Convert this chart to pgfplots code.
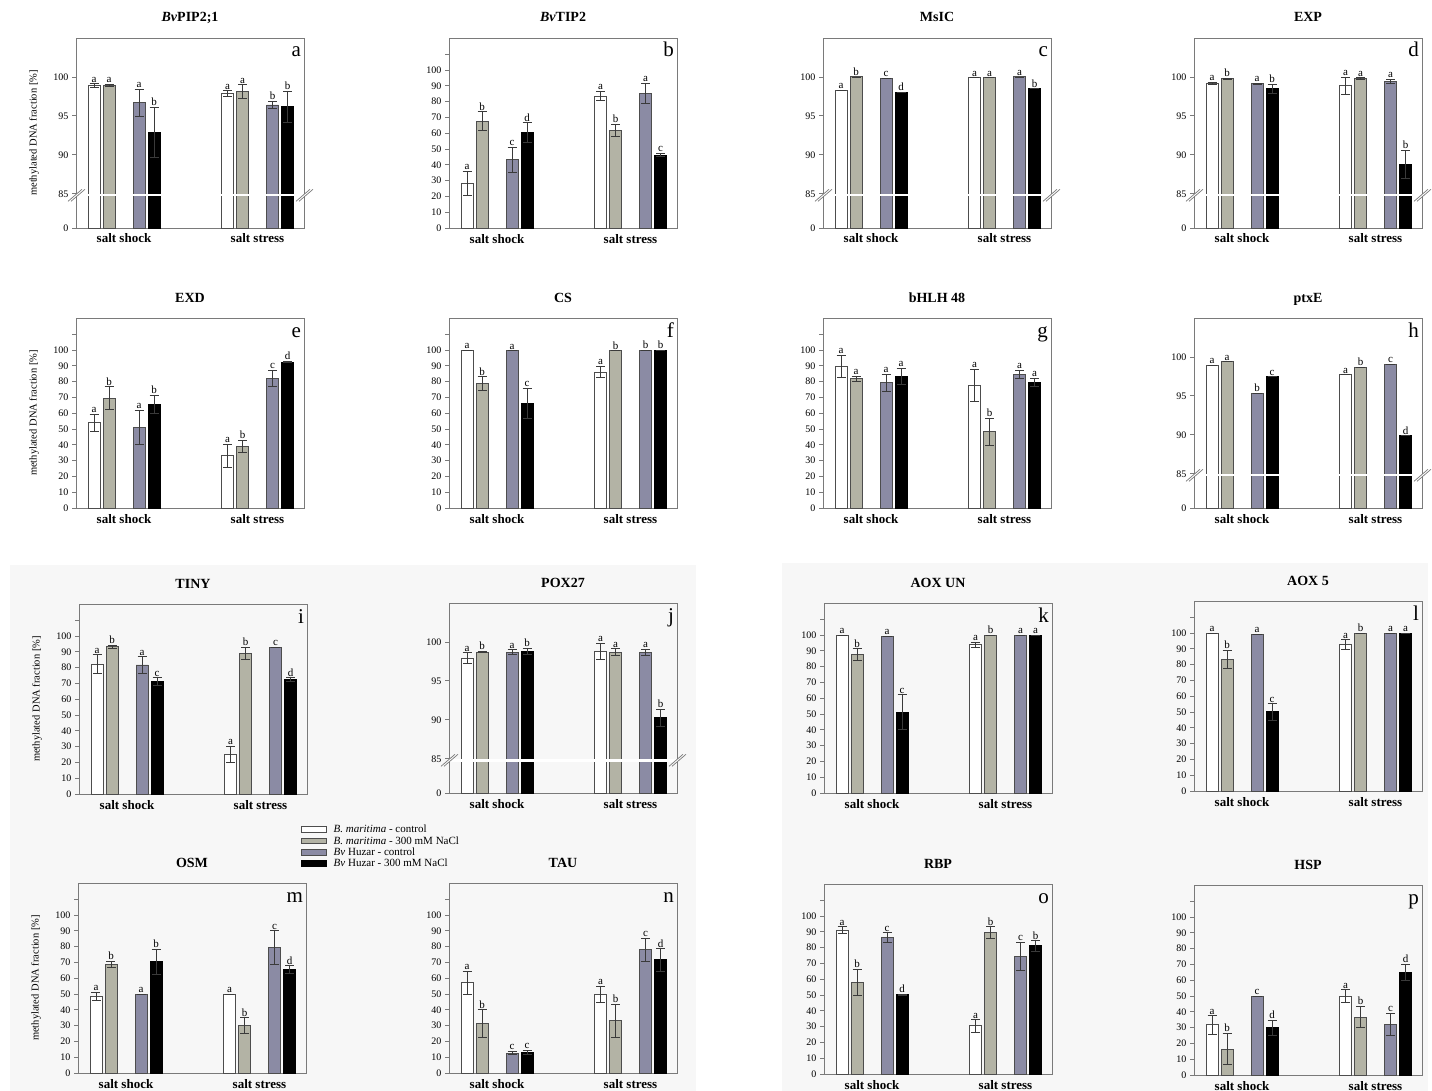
\documentclass[border=0pt]{standalone}
\usepackage{fontspec}
\setmainfont{Liberation Serif}
\usepackage{pgfplots}
\usepackage{pgfplotstable}
\pgfplotsset{compat=1.18}

\definecolor{axgray}{HTML}{7A7A7A}
\definecolor{edgegray}{HTML}{4D4D4D}
\definecolor{barsage}{HTML}{B3B3A5}
\definecolor{barblue}{HTML}{8B8BA4}
\definecolor{errgray}{HTML}{3A3A3A}
\definecolor{bg}{HTML}{F7F7F7}

% columns: c = 0 salt shock, 1 salt stress; series 1..4 = B. maritima ctrl, B. maritima NaCl, Bv ctrl, Bv NaCl
\pgfplotstableread{
c y1 e1 l1 y2 e2 l2 y3 e3 l3 y4 e4 l4
0 98.9 0.25 a 98.9 0.15 a 96.7 1.75 a 92.9 3.2 b
1 97.9 0.35 a 98.1 0.9 a 96.4 0.45 b 96.2 2.0 b
}\tabA
\pgfplotstableread{
c y1 e1 l1 y2 e2 l2 y3 e3 l3 y4 e4 l4
0 28.4 7.6 a 67.6 6.1 b 43.4 7.9 c 60.6 6.1 d
1 83.5 3.0 a 61.9 3.8 b 85.4 6.4 a 46.2 1.0 c
}\tabB
\pgfplotstableread{
c y1 e1 l1 y2 e2 l2 y3 e3 l3 y4 e4 l4
0 98.3 0 a 100 0 b 99.8 0 c 98.0 0 d
1 99.9 0 a 99.9 0 a 100 0 a 98.5 0 b
}\tabC
\pgfplotstableread{
c y1 e1 l1 y2 e2 l2 y3 e3 l3 y4 e4 l4
0 99.2 0.1 a 99.75 0.05 b 99.15 0.05 a 98.5 0.6 b
1 98.9 1.1 a 99.8 0.1 a 99.45 0.25 a 88.8 1.8 b
}\tabD
\pgfplotstableread{
c y1 e1 l1 y2 e2 l2 y3 e3 l3 y4 e4 l4
0 54.0 5.3 a 69.5 7.2 b 51.1 10.8 a 65.7 5.9 b
1 33.1 7.4 a 39.2 3.8 b 82.2 4.9 c 92.4 0.5 d
}\tabE
\pgfplotstableread{
c y1 e1 l1 y2 e2 l2 y3 e3 l3 y4 e4 l4
0 100 0 a 78.8 4.3 b 99.6 0 a 66.3 9.5 c
1 86.0 3.6 a 99.6 0 b 100 0 b 100 0 b
}\tabF
\pgfplotstableread{
c y1 e1 l1 y2 e2 l2 y3 e3 l3 y4 e4 l4
0 89.8 6.8 a 81.8 1.7 a 79.2 5.5 a 83.3 5.3 a
1 77.8 10.1 a 48.3 8.7 b 84.7 2.4 a 79.4 2.6 a
}\tabG
\pgfplotstableread{
c y1 e1 l1 y2 e2 l2 y3 e3 l3 y4 e4 l4
0 98.9 0 a 99.4 0 a 95.35 0 b 97.45 0 c
1 97.7 0 a 98.7 0 b 99.05 0 c 89.9 0 d
}\tabH
\pgfplotstableread{
c y1 e1 l1 y2 e2 l2 y3 e3 l3 y4 e4 l4
0 82.3 5.8 a 93.2 1.0 b 81.7 5.3 a 71.2 2.4 c
1 24.9 5.2 a 89.1 3.7 b 92.8 0 c 72.3 1.3 d
}\tabI
\pgfplotstableread{
c y1 e1 l1 y2 e2 l2 y3 e3 l3 y4 e4 l4
0 97.9 0.7 a 98.7 0.1 b 98.7 0.3 a 98.8 0.4 b
1 98.8 1.0 a 98.7 0.45 a 98.7 0.4 a 90.3 1.1 b
}\tabJ
\pgfplotstableread{
c y1 e1 l1 y2 e2 l2 y3 e3 l3 y4 e4 l4
0 100 0 a 87.8 3.6 b 99.2 0 a 51.2 11.1 c
1 93.9 1.5 a 100 0 b 100 0 a 100 0 a
}\tabK
\pgfplotstableread{
c y1 e1 l1 y2 e2 l2 y3 e3 l3 y4 e4 l4
0 100 0 a 83.5 5.6 b 99.4 0 a 50.1 5.1 c
1 92.9 3.0 a 100 0 b 100 0 a 100 0 a
}\tabL
\pgfplotstableread{
c y1 e1 l1 y2 e2 l2 y3 e3 l3 y4 e4 l4
0 48.5 2.8 a 68.7 1.9 b 50.0 0 a 70.6 7.9 b
1 50.0 0 a 30.2 4.9 b 79.4 10.6 c 65.5 2.4 d
}\tabM
\pgfplotstableread{
c y1 e1 l1 y2 e2 l2 y3 e3 l3 y4 e4 l4
0 57.1 7.2 a 31.4 8.8 b 12.6 1.1 c 13.2 1.3 c
1 49.8 5.3 a 33.1 10.3 b 78.0 7.3 c 71.6 7.2 d
}\tabN
\pgfplotstableread{
c y1 e1 l1 y2 e2 l2 y3 e3 l3 y4 e4 l4
0 91.2 2.1 a 58.1 8.2 b 86.3 3.2 c 50.1 0.3 d
1 30.5 4.0 a 89.5 3.8 b 74.5 8.9 c 81.1 3.3 b
}\tabO
\pgfplotstableread{
c y1 e1 l1 y2 e2 l2 y3 e3 l3 y4 e4 l4
0 31.7 5.8 a 16.4 9.9 b 50.0 0 c 30.0 4.8 d
1 50.0 4.0 a 36.7 6.8 b 32.1 6.9 c 64.9 5.1 d
}\tabP

\newcommand{\brkcode}{%
  \draw[white, line width=2.4pt] (axis cs:-1,4.2) -- (axis cs:229,4.2);
  \draw[axgray, line width=0.7pt] ([xshift=-8pt,yshift=-6pt]axis cs:0,4.2) -- ([xshift=6pt,yshift=6pt]axis cs:0,4.2);
  \draw[axgray, line width=0.7pt] ([xshift=-5pt,yshift=-6pt]axis cs:0,4.2) -- ([xshift=9pt,yshift=6pt]axis cs:0,4.2);
  \draw[axgray, line width=0.7pt] ([xshift=-8pt,yshift=-6pt]axis cs:228,4.2) -- ([xshift=6pt,yshift=6pt]axis cs:228,4.2);
  \draw[axgray, line width=0.7pt] ([xshift=-5pt,yshift=-6pt]axis cs:228,4.2) -- ([xshift=9pt,yshift=6pt]axis cs:228,4.2);
}

\pgfplotsset{
  panel/.style={
    width=228pt, height=190pt, scale only axis, anchor=south west,
    xmin=0, xmax=228, clip=false,
    axis line style={axgray, line width=0.8pt},
    xtick={48,181.5}, xticklabels={salt shock,salt stress},
    xticklabel style={font=\fontsize{13}{13}\selectfont\bfseries, anchor=base, yshift=-11pt},
    xtick style={draw=none},
    ytick pos=left, tick align=outside, major tick length=4pt,
    ytick style={axgray, line width=0.8pt},
    yticklabel style={font=\fontsize{10}{10}\selectfont},
    title style={font=\fontsize{14}{14}\selectfont\bfseries, at={(0.5,1)}, anchor=base, yshift=10pt},
    ylabel style={font=\fontsize{10.5}{10.5}\selectfont, at={(axis description cs:-0.184,0.5)}, anchor=center},
  },
  full/.style={ymin=0, ymax=120.3, ytick={0,10,...,110},
    yticklabels={0,10,20,30,40,50,60,70,80,90,100,{}}},
  broken/.style={ymin=0, ymax=24.4, ytick={0,4.4,9.4,14.4,19.4},
    yticklabels={0,85,90,95,100}, after end axis/.code={\brkcode}},
  mlab/.style={ylabel={methylated DNA fraction [\%]}},
  barbase/.style={ybar, bar width=12, bar shift=0pt, line width=0.9pt, forget plot,
    /pgfplots/error bars/y dir=both, /pgfplots/error bars/y explicit,
    /pgfplots/error bars/error bar style={errgray, line width=0.8pt},
    /pgfplots/error bars/error mark options={rotate=90, mark size=4.5pt, errgray, line width=0.8pt}},
  lett/.style={draw=none, mark=none, forget plot, point meta=explicit symbolic,
    nodes near coords,
    every node near coord/.append style={anchor=south, inner sep=1.2pt,
      font=\fontsize{11}{11}\selectfont, text=black}},
}

\newcommand{\onebar}[5]{%
  \addplot[barbase,#5] table[x expr=\thisrow{c}*133.5+#4, y expr=\thisrow{y#3}-#2, y error=e#3] {#1};
  \addplot[lett] table[x expr=\thisrow{c}*133.5+#4, y expr=\thisrow{y#3}+\thisrow{e#3}-#2, meta=l#3] {#1};
}
\newcommand{\bars}[2]{%
  \onebar{#1}{#2}{1}{18}{fill=white,draw=edgegray}
  \onebar{#1}{#2}{2}{33}{fill=barsage,draw=edgegray}
  \onebar{#1}{#2}{3}{63}{fill=barblue,draw=edgegray}
  \onebar{#1}{#2}{4}{78}{fill=black,draw=black}
}
\newcommand{\plab}[1]{\node[anchor=base east, inner sep=0pt, font=\fontsize{21}{21}\selectfont] at (rel axis cs:0.987,0.9) {#1};}

\begin{document}
\begin{tikzpicture}
\path[use as bounding box] (0,0) rectangle (1432pt,-1091pt);
\fill[bg] (10pt,-565pt) rectangle (696pt,-1091pt);
\fill[bg] (782pt,-563pt) rectangle (1428pt,-1091pt);

% row 1
\begin{axis}[panel, broken, mlab, at={(76pt,-228pt)}, title={\textit{Bv}PIP2;1}]
\bars{\tabA}{80.6}
\plab{a}
\end{axis}
\begin{axis}[panel, full, at={(449pt,-228pt)}, title={\textit{Bv}TIP2}]
\bars{\tabB}{0}
\plab{b}
\end{axis}
\begin{axis}[panel, broken, at={(823pt,-228pt)}, title={MsIC}]
\bars{\tabC}{80.6}
\plab{c}
\end{axis}
\begin{axis}[panel, broken, at={(1194pt,-228pt)}, title={EXP}]
\bars{\tabD}{80.6}
\plab{d}
\end{axis}

% row 2
\begin{axis}[panel, full, mlab, at={(76pt,-508pt)}, title={EXD}]
\bars{\tabE}{0}
\plab{e}
\end{axis}
\begin{axis}[panel, full, at={(449pt,-508pt)}, title={CS}]
\bars{\tabF}{0}
\plab{f}
\end{axis}
\begin{axis}[panel, full, at={(823pt,-508pt)}, title={bHLH 48}]
\bars{\tabG}{0}
\plab{g}
\end{axis}
\begin{axis}[panel, broken, at={(1194pt,-508pt)}, title={ptxE}]
\bars{\tabH}{80.6}
\plab{h}
\end{axis}

% row 3
\begin{axis}[panel, full, mlab, at={(79pt,-794pt)}, title={TINY},
  legend style={at={(0.972,-0.163)}, anchor=north west, draw=none, fill=none,
    font=\fontsize{11}{11}\selectfont, row sep=2.1pt, inner sep=0pt,
    nodes={inner sep=0pt},
    /tikz/every odd column/.append style={column sep=7pt}},
  legend cell align=left,
  legend image code/.code={\draw[#1, line width=0.9pt] (0pt,-2.8pt) rectangle (25pt,2.8pt);}]
\bars{\tabI}{0}
\plab{i}
\addlegendimage{fill=white, draw=edgegray}
\addlegendentry{\textit{B. maritima} - control}
\addlegendimage{fill=barsage, draw=edgegray}
\addlegendentry{\textit{B. maritima} - 300 mM NaCl}
\addlegendimage{fill=barblue, draw=edgegray}
\addlegendentry{\textit{Bv} Huzar - control}
\addlegendimage{fill=black, draw=black}
\addlegendentry{\textit{Bv} Huzar - 300 mM NaCl}
\end{axis}
\begin{axis}[panel, broken, at={(449pt,-793pt)}, title={POX27}]
\bars{\tabJ}{80.6}
\plab{j}
\end{axis}
\begin{axis}[panel, full, at={(824pt,-793pt)}, title={AOX UN}]
\bars{\tabK}{0}
\plab{k}
\end{axis}
\begin{axis}[panel, full, at={(1194pt,-791pt)}, title={AOX 5}]
\bars{\tabL}{0}
\plab{l}
\end{axis}

% row 4
\begin{axis}[panel, full, mlab, at={(78pt,-1073pt)}, title={OSM}]
\bars{\tabM}{0}
\plab{m}
\end{axis}
\begin{axis}[panel, full, at={(449pt,-1073pt)}, title={TAU}]
\bars{\tabN}{0}
\plab{n}
\end{axis}
\begin{axis}[panel, full, at={(824pt,-1074pt)}, title={RBP}]
\bars{\tabO}{0}
\plab{o}
\end{axis}
\begin{axis}[panel, full, at={(1194pt,-1075pt)}, title={HSP}]
\bars{\tabP}{0}
\plab{p}
\end{axis}
\end{tikzpicture}
\end{document}
